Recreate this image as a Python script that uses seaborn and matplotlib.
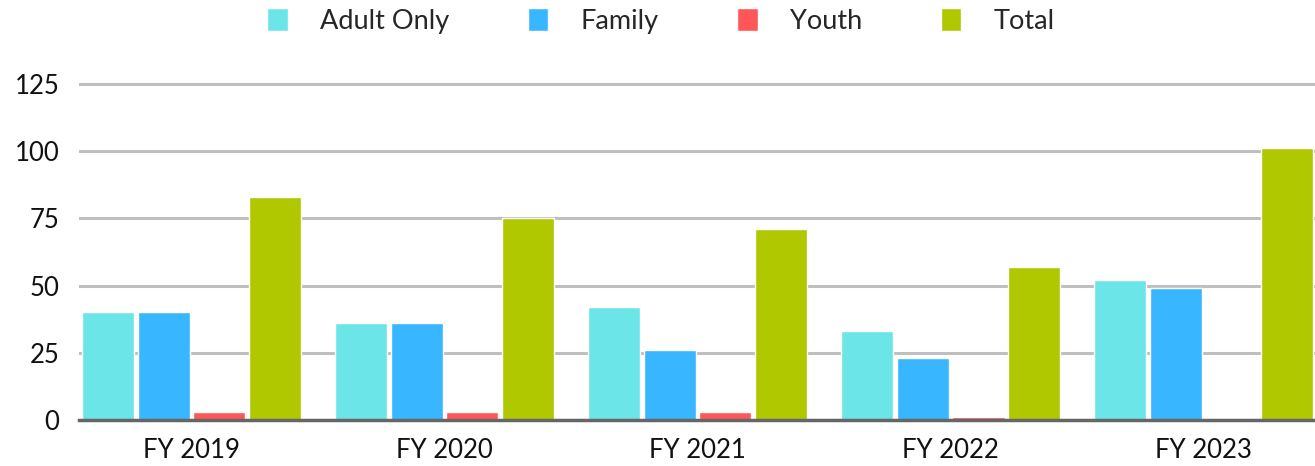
import matplotlib
matplotlib.use("Agg")
import matplotlib.pyplot as plt
import seaborn as sns
import pandas as pd

years = ["FY 2019", "FY 2020", "FY 2021", "FY 2022", "FY 2023"]
series_names = ["Adult Only", "Family", "Youth", "Total"]
adult_only = [40, 36, 42, 33, 52]
family = [40, 36, 26, 23, 49]
youth = [3, 3, 3, 1, 0]
total = [83, 75, 71, 57, 101]
y_ticks = [0, 25, 50, 75, 100, 125]
colors = ["#6CE5E8", "#38B6FF", "#FF5757", "#AFC800"]

rows = []
for name, vals in zip(series_names, [adult_only, family, youth, total]):
    for y, v in zip(years, vals):
        rows.append({"Year": y, "Series": name, "Value": v})
df = pd.DataFrame(rows)

sns.set_theme(style="white")
plt.rcParams["font.family"] = ["Lato", "DejaVu Sans"]

fig = plt.figure(figsize=(13.15, 4.66), dpi=100)
ax = fig.add_axes([79 / 1315, 46 / 466, 1 - 79 / 1315, 363 / 466])

sns.barplot(data=df, x="Year", y="Value", hue="Series", order=years,
            hue_order=series_names, palette=colors, width=0.88, gap=0.065,
            saturation=1, ax=ax, legend=True)

ax.set_xlim(-0.445, 4.44)
ax.set_ylim(0, 135)
ax.set_yticks(y_ticks)
ax.set_yticklabels([str(t) for t in y_ticks])
ax.yaxis.grid(True, color="#BFBFBF", linewidth=2.2)
ax.set_axisbelow(True)
for s in ["top", "right", "left"]:
    ax.spines[s].set_visible(False)
ax.spines["bottom"].set_color("#666666")
ax.spines["bottom"].set_linewidth(2.5)
ax.spines["bottom"].set_zorder(5)
ax.set_xlabel("")
ax.set_ylabel("")
ax.tick_params(axis="both", length=0, labelsize=18.5, colors="#111111")
ax.tick_params(axis="y", pad=14)
ax.tick_params(axis="x", pad=13)

handles, labels = ax.get_legend_handles_labels()
ax.get_legend().remove()
fig.legend(handles, labels, loc="center", bbox_to_anchor=(661 / 1315, 1 - 21 / 466),
           ncol=4, frameon=False, fontsize=19.5, handlelength=0.75, handleheight=0.95,
           handletextpad=1.2, columnspacing=2.9)

fig.savefig("out.png", dpi=100)
